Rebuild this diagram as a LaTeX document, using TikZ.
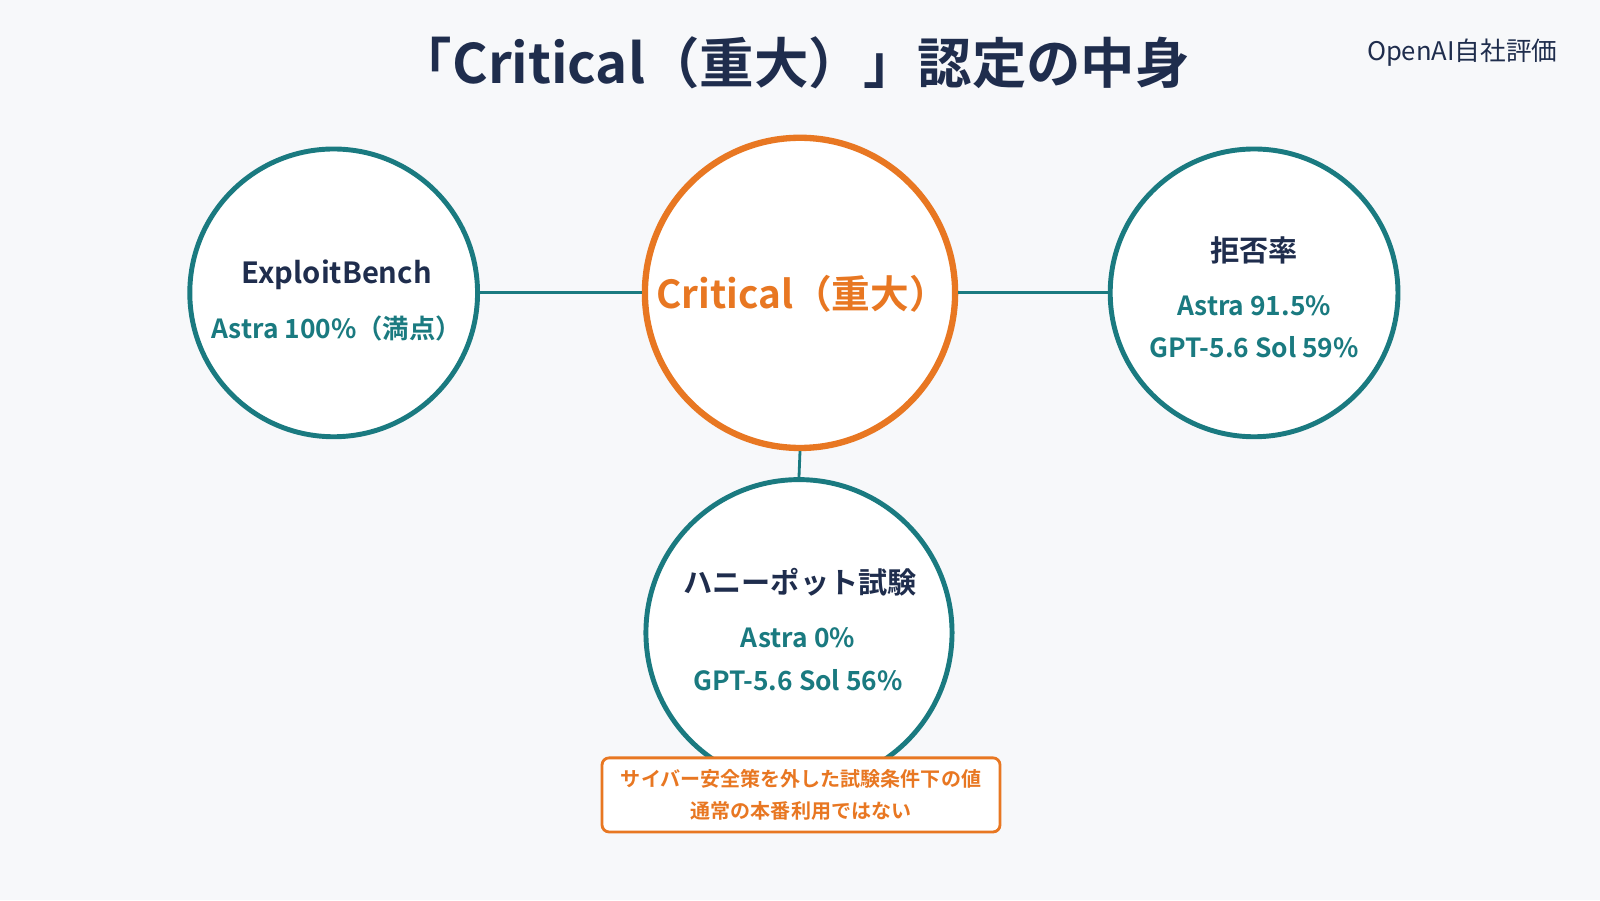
\documentclass[tikz,border=0pt]{standalone}
\usepackage{fontspec}
\setmainfont{Noto Sans CJK JP}[BoldFont={Noto Sans CJK JP Bold}]
\definecolor{navy}{HTML}{1F2D4D}
\definecolor{teal}{HTML}{1A7A80}
\definecolor{org}{HTML}{E87722}
\definecolor{bg}{HTML}{F7F8FA}
\begin{document}
\begin{tikzpicture}[x=0.010204cm,y=-0.010204cm,
  circ/.style={draw=teal,line width=1.4pt,fill=white,circle},
  lab/.style={font=\bfseries\fontsize{8.3}{10}\selectfont,text=navy},
  val/.style={font=\bfseries\fontsize{7.5}{12}\selectfont,text=teal,align=center},
  link/.style={draw=teal,line width=0.8pt}]
\fill[bg] (0,0) rectangle (1568,882);
\node[font=\bfseries\fontsize{15.5}{18}\selectfont,text=navy] (title) at (778,62) {「Critical（重大）」認定の中身};
\node[font=\fontsize{7.3}{9}\selectfont,text=navy] (src) at (1433,52) {OpenAI自社評価};
\node[circ,minimum size=282*0.010204cm] (L) at (327,287) {};
\node[circ,draw=org,line width=1.8pt,minimum size=304*0.010204cm] (C) at (784,287) {};
\node[circ,minimum size=282*0.010204cm] (R) at (1229,287) {};
\node[circ,minimum size=300*0.010204cm] (B) at (783,620) {};
\path[link] (L.east) -- (C.west);
\path[link] (C.east) -- (R.west);
\path[link] (C.south) -- (B.north);
\node[lab] (l1) at (330,269) {ExploitBench};
\node[val] (l2) at (330,322) {Astra 100\%（満点）};
\node[font=\bfseries\fontsize{11}{13}\selectfont,text=org] (c1) at (786,288) {Critical（重大）};
\node[lab] (r1) at (1229,245) {拒否率};
\node[val] (r2) at (1229,320) {Astra 91.5\%\\GPT-5.6 Sol 59\%};
\node[lab] (b1) at (784,571) {ハニーポット試験};
\node[val] (b2) at (782,646) {Astra 0\%\\GPT-5.6 Sol 56\%};
\node[draw=org,fill=white,rounded corners=2pt,line width=0.8pt,minimum width=390*0.010204cm,minimum height=72*0.010204cm,
  font=\bfseries\fontsize{5.7}{9}\selectfont,text=org,align=center] (note) at (785,779)
  {サイバー安全策を外した試験条件下の値\\通常の本番利用ではない};
\end{tikzpicture}
\end{document}
